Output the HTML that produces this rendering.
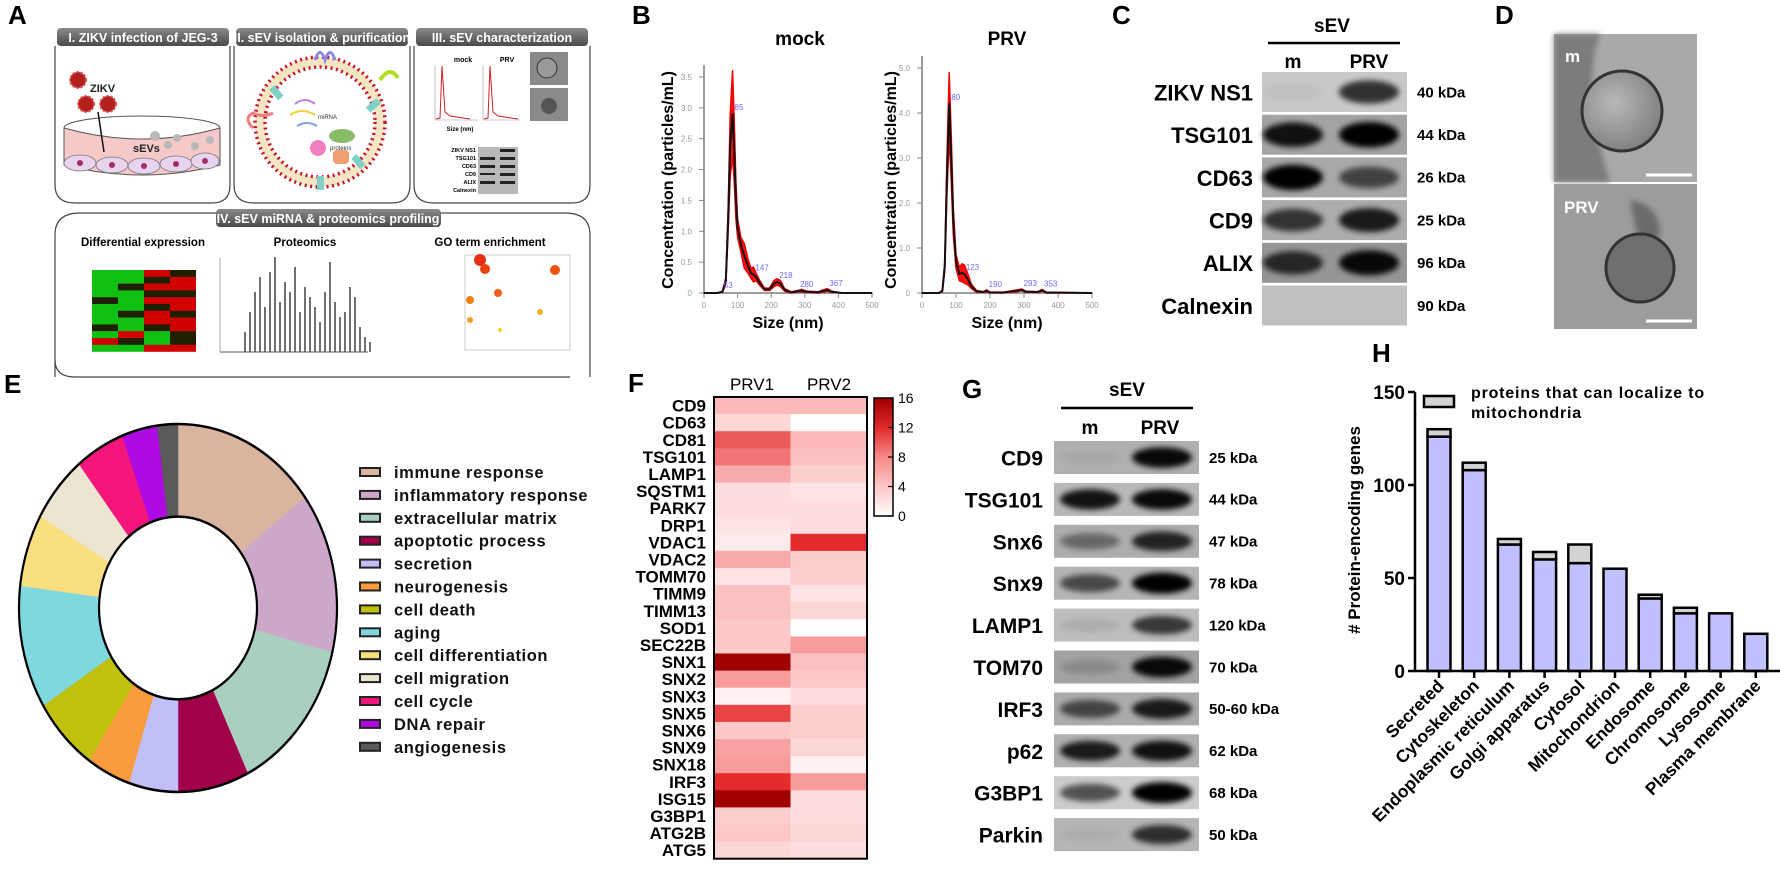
<!DOCTYPE html>
<html><head><meta charset="utf-8"><title>sEV figure</title>
<style>
html,body{margin:0;padding:0;background:#fff;}
svg{display:block;font-family:"Liberation Sans",Arial,sans-serif;}
.b{font-weight:bold;}
.nar{font-family:"Liberation Sans Narrow","Liberation Sans",sans-serif;font-weight:bold;}
.pl{font-size:26px;font-weight:bold;}
</style></head>
<body>
<svg id="fig" width="1780" height="871" viewBox="0 0 1780 871" xmlns="http://www.w3.org/2000/svg">
<defs>
<filter id="blur2" x="-50%" y="-50%" width="200%" height="200%"><feGaussianBlur stdDeviation="3"/></filter>
<filter id="blur1" x="-50%" y="-50%" width="200%" height="200%"><feGaussianBlur stdDeviation="1.5"/></filter>
<linearGradient id="tab" x1="0" y1="0" x2="0" y2="1"><stop offset="0" stop-color="#8a8a8a"/><stop offset="1" stop-color="#4a4a4a"/></linearGradient>
<radialGradient id="emm" cx="0.4" cy="0.4" r="0.7"><stop offset="0" stop-color="#b8b8b8"/><stop offset="1" stop-color="#7a7a7a"/></radialGradient>
</defs>

<!-- Panel labels -->
<text x="8" y="24" class="pl">A</text>
<text x="632" y="24" class="pl">B</text>
<text x="1112" y="24" class="pl">C</text>
<text x="1495" y="24" class="pl">D</text>
<text x="4" y="393" class="pl">E</text>
<text x="628" y="392" class="pl">F</text>
<text x="962" y="398" class="pl">G</text>
<text x="1372" y="362" class="pl">H</text>

<!-- Panel A schematic -->
<g id="panelA">
  <path d="M55 46 L55 185 Q55 203 75 203 L212 203 Q230 203 230 185 L230 46" fill="none" stroke="#444" stroke-width="1.2"/>
  <path d="M234 46 L234 185 Q234 203 254 203 L392 203 Q410 203 410 185 L410 46" fill="none" stroke="#444" stroke-width="1.2"/>
  <path d="M414 46 L414 185 Q414 203 434 203 L572 203 Q590 203 590 185 L590 46" fill="none" stroke="#444" stroke-width="1.2"/>
  <rect x="57" y="28" width="172" height="18" rx="4" fill="url(#tab)"/>
  <text x="143" y="42" font-size="12.5" fill="#fff" class="b" text-anchor="middle">I. ZIKV infection of JEG-3</text>
  <rect x="236" y="28" width="172" height="18" rx="4" fill="url(#tab)"/>
  <text x="322" y="42" font-size="12.5" fill="#fff" class="b" text-anchor="middle">II. sEV isolation &amp; purification</text>
  <rect x="416" y="28" width="172" height="18" rx="4" fill="url(#tab)"/>
  <text x="502" y="42" font-size="12.5" fill="#fff" class="b" text-anchor="middle">III. sEV characterization</text>
  <ellipse cx="142" cy="128" rx="78" ry="12" fill="#fff" stroke="#555"/>
  <path d="M64 128 L64 165 Q142 185 220 165 L220 128 Q142 150 64 128 Z" fill="#f6c9c9" stroke="#555"/>
  <g fill="#e8d4ee" stroke="#777" stroke-width="0.8">
    <ellipse cx="80" cy="163" rx="16" ry="8"/><ellipse cx="112" cy="165" rx="16" ry="8"/><ellipse cx="144" cy="166" rx="16" ry="8"/><ellipse cx="176" cy="164" rx="16" ry="8"/><ellipse cx="205" cy="161" rx="14" ry="8"/>
  </g>
  <g fill="#a0306a"><circle cx="80" cy="163" r="3"/><circle cx="112" cy="165" r="3"/><circle cx="144" cy="166" r="3"/><circle cx="176" cy="164" r="3"/><circle cx="205" cy="161" r="3"/></g>
  <g fill="#b8b8b8"><circle cx="155" cy="136" r="5"/><circle cx="168" cy="145" r="4"/><circle cx="177" cy="138" r="4"/><circle cx="195" cy="146" r="4"/><circle cx="210" cy="140" r="4"/></g>
  <g fill="#b32020" stroke="#e05050" stroke-width="2" stroke-dasharray="2 2">
    <circle cx="78" cy="80" r="8"/><circle cx="86" cy="104" r="8"/><circle cx="108" cy="104" r="8"/>
  </g>
  <text x="90" y="92" font-size="11" class="b" fill="#222">ZIKV</text>
  <text x="133" y="152" font-size="11" class="b" fill="#222">sEVs</text>
  <line x1="98" y1="112" x2="104" y2="152" stroke="#111" stroke-width="1.5"/>
  <circle cx="320" cy="122" r="60" fill="none" stroke="#f4e6c4" stroke-width="10"/>
  <circle cx="320" cy="122" r="65" fill="none" stroke="#c0142a" stroke-width="3.5" stroke-dasharray="2 3.5"/>
  <circle cx="320" cy="122" r="55" fill="none" stroke="#c0142a" stroke-width="3.5" stroke-dasharray="2 3.5"/>
  <g fill="#7fd0c8"><rect x="273" y="86" width="7" height="14" transform="rotate(-40 276 93)"/><rect x="355" y="155" width="7" height="14" transform="rotate(-40 358 162)"/><rect x="317" y="176" width="7" height="14"/><rect x="370" y="98" width="7" height="14" transform="rotate(50 373 105)"/></g>
  <path d="M315 60 q5 -15 10 0 q5 -15 10 0" stroke="#8a8ae0" stroke-width="3" fill="none"/>
  <path d="M253 128 q-10 -10 0 -15 q10 5 20 0" stroke="#f08080" stroke-width="3" fill="none"/>
  <path d="M380 80 q10 -15 18 -2" stroke="#b0e020" stroke-width="4" fill="none"/>
  <path d="M295 104 q10 -8 20 0" stroke="#c080e0" stroke-width="2" fill="none"/>
  <path d="M290 115 q12 -8 25 0" stroke="#f0d040" stroke-width="2" fill="none"/>
  <path d="M297 126 q10 -6 20 0" stroke="#80a0e0" stroke-width="2" fill="none"/>
  <text x="318" y="119" font-size="6" fill="#333">miRNA</text>
  <ellipse cx="342" cy="136" rx="13" ry="7" fill="#88bb66"/>
  <circle cx="318" cy="148" r="8" fill="#f080c0"/>
  <rect x="333" y="150" width="16" height="14" rx="4" fill="#f0a070"/>
  <text x="330" y="150" font-size="6" fill="#333">proteins</text>
  <text x="463" y="62" font-size="7" class="b" text-anchor="middle">mock</text>
  <text x="507" y="62" font-size="7" class="b" text-anchor="middle">PRV</text>
  <path d="M435 65 L435 120 L478 120" fill="none" stroke="#999" stroke-width="0.6"/>
  <path d="M483 65 L483 120 L520 120" fill="none" stroke="#999" stroke-width="0.6"/>
  <path d="M436 119 L440 118 L442 66 L445 112 L450 116 L470 119" fill="none" stroke="#d02020" stroke-width="1"/>
  <path d="M484 119 L488 118 L490 66 L493 112 L498 116 L518 119" fill="none" stroke="#d02020" stroke-width="1"/>
  <text x="460" y="131" font-size="6" class="b" text-anchor="middle">Size (nm)</text>
  <rect x="530" y="52" width="38" height="33" fill="#8a8a8a"/><circle cx="547" cy="68" r="10" fill="#9a9a9a" stroke="#333"/>
  <rect x="530" y="88" width="38" height="33" fill="#8a8a8a"/><circle cx="549" cy="106" r="8" fill="#555"/>
  <g font-size="5.5" class="b" text-anchor="end">
    <text x="476" y="152">ZIKV NS1</text><text x="476" y="160">TSG101</text><text x="476" y="168">CD63</text><text x="476" y="176">CD9</text><text x="476" y="184">ALIX</text><text x="476" y="192">Calnexin</text>
  </g>
  <rect x="478" y="147" width="40" height="47" fill="#b8b8b8"/>
  <g fill="#222"><rect x="480" y="157" width="15" height="3"/><rect x="500" y="157" width="15" height="3"/><rect x="480" y="165" width="15" height="3"/><rect x="500" y="165" width="15" height="3"/><rect x="480" y="173" width="15" height="2"/><rect x="500" y="173" width="15" height="3"/><rect x="480" y="181" width="15" height="3"/><rect x="500" y="181" width="15" height="3"/><rect x="500" y="149" width="15" height="3"/></g>
  <path d="M55 377 L55 235 Q55 213 80 213 L565 213 Q590 213 590 235 L590 377" fill="none" stroke="#444" stroke-width="1.2"/>
  <path d="M55 360 Q55 377 75 377 L570 377" fill="none" stroke="#444" stroke-width="1.2"/>
  <rect x="216" y="209" width="225" height="18" rx="4" fill="url(#tab)"/>
  <text x="328" y="223" font-size="12.5" fill="#fff" class="b" text-anchor="middle">IV. sEV miRNA &amp; proteomics profiling</text>
  <text x="143" y="246" font-size="11.5" class="b" text-anchor="middle">Differential expression</text>
  <text x="305" y="246" font-size="11.5" class="b" text-anchor="middle">Proteomics</text>
  <text x="490" y="246" font-size="11.5" class="b" text-anchor="middle">GO term enrichment</text>
  <g id="aHeat"></g>
  <g id="aSpec"></g>
  <g id="aGo"></g>
</g>

<!-- Panel B -->
<g id="panelB">
  <text x="800" y="45" font-size="19" class="b" text-anchor="middle">mock</text>
  <text x="1007" y="45" font-size="19" class="b" text-anchor="middle">PRV</text>
  <text transform="translate(673,180) rotate(-90)" font-size="16" class="b" text-anchor="middle">Concentration (particles/mL)</text>
  <text transform="translate(896,180) rotate(-90)" font-size="16" class="b" text-anchor="middle">Concentration (particles/mL)</text>
  <text x="788" y="328" font-size="16" class="b" text-anchor="middle">Size (nm)</text>
  <text x="1007" y="328" font-size="16" class="b" text-anchor="middle">Size (nm)</text>
  <g id="bMock"></g><g id="bPrv"></g>
</g>

<!-- Panel C -->
<g id="panelC">
  <text x="1332" y="32" font-size="19" class="nar" text-anchor="middle">sEV</text>
  <line x1="1268" y1="43" x2="1400" y2="43" stroke="#000" stroke-width="2.5"/>
  <text x="1293" y="68" font-size="19" class="nar" text-anchor="middle">m</text>
  <text x="1369" y="68" font-size="19" class="nar" text-anchor="middle">PRV</text>
  <g id="cRows"></g>
</g>

<!-- Panel D -->
<g id="panelD">
  <rect x="1554" y="34" width="143" height="148" fill="#a9a9a9"/>
  <path d="M1554 34 L1600 34 Q1580 90 1610 182 L1554 182 Z" fill="#7c7c7c" filter="url(#blur2)"/>
  <circle cx="1622" cy="111" r="40" fill="url(#emm)" stroke="#333" stroke-width="3"/>
  <text x="1565" y="62" font-size="17" fill="#fff" class="b">m</text>
  <line x1="1646" y1="175" x2="1692" y2="175" stroke="#fff" stroke-width="3"/>
  <rect x="1554" y="184" width="143" height="145" fill="#9c9c9c"/>
  <path d="M1630 200 Q1660 205 1660 235 L1640 250 Z" fill="#6a6a6a" filter="url(#blur2)"/>
  <circle cx="1640" cy="268" r="34" fill="#6f6f6f" stroke="#333" stroke-width="3"/>
  <text x="1564" y="213" font-size="17" fill="#fff" class="b">PRV</text>
  <line x1="1646" y1="321" x2="1692" y2="321" stroke="#fff" stroke-width="3"/>
</g>

<!-- Panel E -->
<g id="panelE">
  <g id="donut" transform="translate(178,608) scale(1,1.157)"></g>
  <g id="eLegend"></g>
</g>

<!-- Panel F -->
<g id="panelF">
  <text x="752" y="390" font-size="17" text-anchor="middle">PRV1</text>
  <text x="829" y="390" font-size="17" text-anchor="middle">PRV2</text>
  <g id="heat"></g>
  <g id="cbar"></g>
</g>

<!-- Panel G -->
<g id="panelG">
  <text x="1127" y="396" font-size="19" class="nar" text-anchor="middle">sEV</text>
  <line x1="1061" y1="408" x2="1193" y2="408" stroke="#000" stroke-width="2.5"/>
  <text x="1090" y="434" font-size="19" class="nar" text-anchor="middle">m</text>
  <text x="1160" y="434" font-size="19" class="nar" text-anchor="middle">PRV</text>
  <g id="gRows"></g>
</g>

<!-- Panel H -->
<g id="panelH">
  <text transform="translate(1360,530) rotate(-90)" font-size="17" class="b" text-anchor="middle"># Protein-encoding genes</text>
  <rect x="1424" y="396" width="30" height="11" fill="#d3d3d3" stroke="#000" stroke-width="2.5"/>
  <text x="1471" y="398" font-size="16" class="b" letter-spacing="0.8">proteins that can localize to</text>
  <text x="1471" y="418" font-size="16" class="b" letter-spacing="0.8">mitochondria</text>
  <g id="hChart"></g>
</g>
</svg>

<script>
// ---------- Panel B data ----------
const mockSize   = [0,40,55,65,72,78,85,90,95,100,110,120,130,140,147,155,165,180,195,208,218,228,240,260,280,290,305,340,360,367,380,410,500];
const mockMean   = [0,0,0.02,0.2,1.2,2.4,2.9,2.3,1.5,1.05,0.78,0.6,0.45,0.32,0.3,0.26,0.17,0.06,0.06,0.15,0.18,0.15,0.05,0.01,0.03,0.04,0.02,0.01,0.04,0.05,0.02,0,0];
const mockSpread = [0,0,0.01,0.05,0.2,0.5,0.7,0.5,0.3,0.15,0.12,0.2,0.12,0.08,0.12,0.06,0.04,0.02,0.02,0.05,0.05,0.05,0.02,0.01,0.01,0.02,0.01,0.01,0.02,0.02,0.01,0,0];
const mockYTicks = [0,0.5,1.0,1.5,2.0,2.5,3.0,3.5];
const mockPeaks  = [53,85,147,218,280,367];
const prvSize    = [0,50,60,67,73,80,86,92,100,110,118,125,135,145,160,180,190,200,240,280,293,305,340,353,365,500];
const prvMean    = [0,0,0.05,0.6,2.5,4.2,3.0,1.6,0.7,0.42,0.45,0.42,0.3,0.15,0.04,0.02,0.05,0.01,0.01,0.05,0.07,0.03,0.02,0.06,0.01,0];
const prvSpread  = [0,0,0.02,0.1,0.4,0.7,0.5,0.3,0.15,0.15,0.2,0.2,0.12,0.05,0.02,0.01,0.02,0.01,0.01,0.02,0.02,0.01,0.01,0.02,0.01,0];
const prvYTicks  = [0,1.0,2.0,3.0,4.0,5.0];
const prvPeaks   = [80,123,190,293,353];
const xTicks     = [0,100,200,300,400,500];

// ---------- Panel E data ----------
const goCategories = ["immune response","inflammatory response","extracellular matrix","apoptotic process","secretion","neurogenesis","cell death","aging","cell differentiation","cell migration","cell cycle","DNA repair","angiogenesis"];
const goValues     = [53,51,50,26,18,16,24,39,23,21.5,18,13,7.5];
const goColors     = ["#d9b5a0","#cca7ca","#a9d0bf","#a1004a","#c1bff7","#f99b3c","#c0c00e","#7ed8de","#fadf80","#ece5d2","#f5167c","#b00ae4","#5a5a5a"];

// ---------- Panel F data ----------
const genes = ["CD9","CD63","CD81","TSG101","LAMP1","SQSTM1","PARK7","DRP1","VDAC1","VDAC2","TOMM70","TIMM9","TIMM13","SOD1","SEC22B","SNX1","SNX2","SNX3","SNX5","SNX6","SNX9","SNX18","IRF3","ISG15","G3BP1","ATG2B","ATG5"];
const prv1  = [5,3,10,9,6,2.5,2.5,2,1.5,6,2,4.5,4.5,4,4,16,7,1,11,4,6.5,7,12,16,3.5,4,3];
const prv2  = [5,0,5,4.5,3.5,2,2.5,2.5,12,3.5,3.5,2,3,0,7,4.5,4,2.5,3.5,3.5,3,1,7,2.5,2.5,3,2.5];
const cbarTicks = [0,4,8,12,16];

// ---------- Panel H data ----------
const hCategories = ["Secreted","Cytoskeleton","Endoplasmic reticulum","Golgi apparatus","Cytosol","Mitochondrion","Endosome","Chromosome","Lysosome","Plasma membrane"];
const hTotal  = [130,112,71,64,68,55,41,34,31,20];
const hOther  = [126,108,68,60,58,55,39,31,31,20];
const hYTicks = [0,50,100,150];

// ---------- Western blot data ----------
const cLabels = ["ZIKV NS1","TSG101","CD63","CD9","ALIX","Calnexin"];
const cKda    = ["40 kDa","44 kDa","26 kDa","25 kDa","96 kDa","90 kDa"];
const cM      = [0.04,0.9,1.0,0.7,0.75,0];
const cP      = [0.75,1.0,0.6,0.85,0.95,0];
const cBg     = ["#c8c8c8","#a4a4a4","#a8a8a8","#acacac","#969696","#c0c0c0"];
const gLabels = ["CD9","TSG101","Snx6","Snx9","LAMP1","TOM70","IRF3","p62","G3BP1","Parkin"];
const gKda    = ["25 kDa","44 kDa","47 kDa","78 kDa","120 kDa","70 kDa","50-60 kDa","62 kDa","68 kDa","50 kDa"];
const gM      = [0.05,0.9,0.4,0.6,0.08,0.15,0.6,0.85,0.6,0.04];
const gP      = [0.95,0.95,0.8,1.0,0.7,0.95,0.85,0.9,1.0,0.75];
const gBg     = ["#b0b0b0","#b8b8b8","#adadad","#b5b5b5","#bdbdbd","#a2a2a2","#ababab","#b0b0b0","#cccccc","#b5b5b5"];

const NS = "http://www.w3.org/2000/svg";
function mk(tag, attrs, parent){
  const el = document.createElementNS(NS, tag);
  for (const k in attrs) el.setAttribute(k, attrs[k]);
  parent.appendChild(el);
  return el;
}
function txt(s, attrs, parent){ const t = mk("text", attrs, parent); t.textContent = s; return t; }

// ---------- Panel B ----------
function ntaPlot(gid, x0, x1, yBase, yMax, yMaxPx, sizes, mean, spread, yTicks, peaks){
  const g = document.getElementById(gid);
  const xs = s => x0 + s * (x1 - x0) / 500;
  const ys = v => yBase - v * yMaxPx / yMax;
  const ax = mk("path", {d:`M${x0} ${ys(yTicks[yTicks.length-1])-12} L${x0} ${yBase} L${x1} ${yBase}`, fill:"none", stroke:"#666", "stroke-width":1.3}, g);
  
  
  yTicks.forEach(v => {
    const l = mk("line", {x1:x0-5, x2:x0, y1:ys(v), y2:ys(v), stroke:"#888"}, g);
    
    
    const t = txt(v === 0 ? "0" : v.toFixed(1), {x:x0-12, y:ys(v)+3, "font-size":8, fill:"#999", "text-anchor":"end"}, g);
    
    
  });
  xTicks.forEach(v => {
    const l = mk("line", {x1:xs(v), x2:xs(v), y1:yBase, y2:yBase+5, stroke:"#888"}, g);
    
    
    const t = txt(String(v), {x:xs(v), y:yBase+15, "font-size":8, fill:"#999", "text-anchor":"middle"}, g);
    
    
  });
  const up = sizes.map((s,i)=>`${xs(s)},${ys(mean[i]+spread[i])}`);
  const dn = sizes.map((s,i)=>`${xs(s)},${ys(Math.max(0,mean[i]-spread[i]))}`).reverse();
  const band = mk("polygon", {points: up.concat(dn).join(" "), fill:"#ff1010", stroke:"#ee0000", "stroke-width":1.5, "stroke-linejoin":"round"}, g);
  
  
  const line = mk("polyline", {points: sizes.map((s,i)=>`${xs(s)},${ys(mean[i])}`).join(" "), fill:"none", stroke:"#111", "stroke-width":2, "stroke-linejoin":"round"}, g);
  
  
  peaks.forEach(p => {
    let idx = 0, best = 1e9;
    sizes.forEach((s,i)=>{ if (Math.abs(s-p) < best){best = Math.abs(s-p); idx = i;} });
    const t = txt(String(p), {x:xs(p)+2, y:ys(mean[idx])-4, "font-size":8, fill:"#6a6aff"}, g);
    
    
  });
}
ntaPlot("bMock", 704, 872, 293, 3.5, 216, mockSize, mockMean, mockSpread, mockYTicks, mockPeaks);
ntaPlot("bPrv", 922, 1092, 293, 5.0, 225, prvSize, prvMean, prvSpread, prvYTicks, prvPeaks);

// ---------- Westerns ----------
function blotRows(gid, labels, kda, mI, pI, bg, xL, xR, laneM, laneP, y0, pitch, h, labelX, kdaX, fs, kfs, bw){
  const g = document.getElementById(gid);
  labels.forEach((lab, i) => {
    const y = y0 + i * pitch;
    const r = mk("rect", {x:xL, y:y, width:xR-xL, height:h, fill:bg[i]}, g);
    
    
    [[laneM, mI[i]], [laneP, pI[i]]].forEach(([cx, v]) => {
      if (v <= 0) return;
      const e = mk("ellipse", {cx:cx, cy:y+h*0.5, rx:bw, ry:h*0.2 + v*h*0.12, fill:"#000", opacity:Math.min(1, v), filter:"url(#blur2)"}, g);
      
      
    });
    const t = txt(lab, {x:labelX, y:y+h*0.5+fs*0.38, "font-size":fs, "text-anchor":"end", class:"nar"}, g);
    
    
    const k = txt(kda[i], {x:kdaX, y:y+h*0.5+kfs*0.35, "font-size":kfs, class:"nar"}, g);
    
    
  });
}
blotRows("cRows", cLabels, cKda, cM, cP, cBg, 1262, 1407, 1293, 1369, 72, 42.7, 40, 1253, 1417, 22, 15, 30);
blotRows("gRows", gLabels, gKda, gM, gP, gBg, 1054, 1199, 1090, 1162, 441, 41.9, 33, 1043, 1209, 21, 15, 30);

// ---------- Panel E donut ----------
(function(){
  const g = document.getElementById("donut");
  const R = 159, r = 79;
  const tot = goValues.reduce((a,b)=>a+b,0);
  let a0 = 0;
  const pt = (rad, ang) => [rad*Math.sin(ang), -rad*Math.cos(ang)];
  goValues.forEach((v,i) => {
    const a1 = a0 + v/tot * 2*Math.PI;
    const large = (a1-a0) > Math.PI ? 1 : 0;
    const [x1,y1] = pt(R,a0), [x2,y2] = pt(R,a1), [x3,y3] = pt(r,a1), [x4,y4] = pt(r,a0);
    const p = mk("path", {d:`M${x1} ${y1} A${R} ${R} 0 ${large} 1 ${x2} ${y2} L${x3} ${y3} A${r} ${r} 0 ${large} 0 ${x4} ${y4} Z`, fill:goColors[i], stroke:goColors[i], "stroke-width":0.5}, g);
    
    
    a0 = a1;
  });
  const o = mk("circle", {cx:0, cy:0, r:R, fill:"none", stroke:"#000", "stroke-width":2.2}, g);
  
  
  const n = mk("circle", {cx:0, cy:0, r:r, fill:"#fff", stroke:"#000", "stroke-width":2.2}, g);
  
  
  const lg = document.getElementById("eLegend");
  goCategories.forEach((c,i) => {
    const y = 472 + i*22.9;
    const s = mk("rect", {x:360, y:y-4, width:20, height:8, fill:goColors[i], stroke:"#222", "stroke-width":2}, lg);
    
    
    const t = txt(c, {x:394, y:y+6, "font-size":16.5, class:"b", "letter-spacing":0.6, fill:"#111"}, lg);
    
    
  });
})();

// ---------- Panel F heatmap ----------
function heatColor(v){
  const stops = [[0,[255,255,255]],[4,[252,200,200]],[8,[246,140,140]],[12,[228,44,44]],[16,[160,0,0]]];
  for (let i=0;i<stops.length-1;i++){
    const [v0,c0] = stops[i], [v1,c1] = stops[i+1];
    if (v <= v1){
      const f = (v - v0)/(v1 - v0);
      return `rgb(${c0.map((c,k)=>Math.round(c + f*(c1[k]-c))).join(",")})`;
    }
  }
  return "rgb(160,0,0)";
}
(function(){
  const g = document.getElementById("heat");
  const top = 397, pitch = 17.1, xL = 714, cw = 76.5;
  genes.forEach((gn,i) => {
    const y = top + i*pitch;
    [prv1[i], prv2[i]].forEach((v,j) => {
      const c = mk("rect", {x:xL + j*cw, y:y, width:cw+0.5, height:pitch+0.5, fill:heatColor(v)}, g);
      
      
    });
    const t = txt(gn, {x:706, y:y+pitch*0.5+6, "font-size":17, "text-anchor":"end", class:"nar"}, g);
    
    
  });
  const b = mk("rect", {x:xL, y:top, width:2*cw, height:genes.length*pitch, fill:"none", stroke:"#000", "stroke-width":2}, g);
  
  
  const cb = document.getElementById("cbar");
  const cT = 398, cB = 516, cx = 874, cwid = 19;
  for (let k=0;k<60;k++){
    const v0 = 16 - k*16/60;
    const s = mk("rect", {x:cx, y:cT + k*(cB-cT)/60, width:cwid, height:(cB-cT)/60+0.6, fill:heatColor(v0)}, cb);
    
    
  }
  const fr = mk("rect", {x:cx, y:cT, width:cwid, height:cB-cT, fill:"none", stroke:"#000", "stroke-width":1.5}, cb);
  
  
  cbarTicks.forEach(v => {
    const y = cB - v*(cB-cT)/16;
    const l = mk("line", {x1:cx+cwid-5, x2:cx+cwid, y1:y, y2:y, stroke:"#000", "stroke-width":1.2}, cb);
    
    
    const t = txt(String(v), {x:cx+cwid+5, y:y+5, "font-size":14}, cb);
    
    
  });
})();

// ---------- Panel H bars ----------
(function(){
  const g = document.getElementById("hChart");
  const x0 = 1415, y0 = 671, pxPer = 279/150, c0 = 1439, step = 35.2, bw = 23;
  const ys = v => y0 - v*pxPer;
  hCategories.forEach((c,i) => {
    const cx = c0 + i*step;
    const p = mk("rect", {x:cx-bw/2, y:ys(hOther[i]), width:bw, height:hOther[i]*pxPer, fill:"#c0c0ff", stroke:"#000", "stroke-width":2.5}, g);
    
    
    if (hTotal[i] > hOther[i]) {
      const q = mk("rect", {x:cx-bw/2, y:ys(hTotal[i]), width:bw, height:(hTotal[i]-hOther[i])*pxPer, fill:"#d3d3d3", stroke:"#000", "stroke-width":2.5}, g);
      
      
    }
    const tk = mk("line", {x1:cx, x2:cx, y1:y0, y2:y0+7, stroke:"#000", "stroke-width":2.5}, g);
    
    
    const t = txt(c, {transform:`translate(${cx+6},${y0+16}) rotate(-45)`, "font-size":17.5, class:"b", "text-anchor":"end"}, g);
    
    
  });
  const ax = mk("path", {d:`M${x0} ${ys(150)} L${x0} ${y0} L1780 ${y0}`, fill:"none", stroke:"#000", "stroke-width":2.5}, g);
  
  
  hYTicks.forEach(v => {
    const l = mk("line", {x1:x0-7, x2:x0, y1:ys(v), y2:ys(v), stroke:"#000", "stroke-width":2.5}, g);
    
    
    const t = txt(String(v), {x:x0-10, y:ys(v)+7, "font-size":19, class:"b", "text-anchor":"end"}, g);
    
    
  });
})();

// ---------- Panel A mini graphics ----------
(function(){
  const h = document.getElementById("aHeat");
  const pat = [[0,0,2,1],[0,0,1,2],[0,1,2,2],[0,0,1,1],[1,0,2,2],[0,0,1,2],[0,1,2,1],[0,0,2,2],[1,0,1,2],[0,2,0,1],[2,1,0,1],[0,0,2,2]];
  const cols = ["#10c010","#202000","#d00000"];
  pat.forEach((row,i) => row.forEach((c,j) => {
    const r = mk("rect", {x:92 + j*26, y:270 + i*6.8, width:26, height:7, fill:cols[c]}, h);
    
    
  }));
  const sp = document.getElementById("aSpec");
  const peaksH = [20,40,60,75,45,80,95,50,70,60,85,40,65,55,45,30,60,90,50,35,40,65,55,25,15,10];
  peaksH.forEach((v,i) => {
    const l = mk("line", {x1:245 + i*5, x2:245 + i*5, y1:352, y2:352 - v, stroke:"#111", "stroke-width":1.2}, sp);
    
    
  });
  mk("line", {x1:220, x2:368, y1:352, y2:352, stroke:"#555"}, sp);
  mk("line", {x1:220, x2:220, y1:258, y2:352, stroke:"#aaa"}, sp);
  const go = document.getElementById("aGo");
  mk("rect", {x:465, y:255, width:105, height:95, fill:"#fff", stroke:"#ccc"}, go);
  const dots = [[480,260,6,"#e83010"],[485,269,5,"#e84010"],[498,293,4,"#f06010"],[470,300,4,"#f08010"],[555,270,5,"#f05010"],[540,312,3,"#f0b020"],[470,320,3,"#f0a020"],[500,330,2,"#f0d030"]];
  dots.forEach(d => {
    const c = mk("circle", {cx:d[0], cy:d[1], r:d[2], fill:d[3]}, go);
    
    
  });
})();
</script>
</body></html>
